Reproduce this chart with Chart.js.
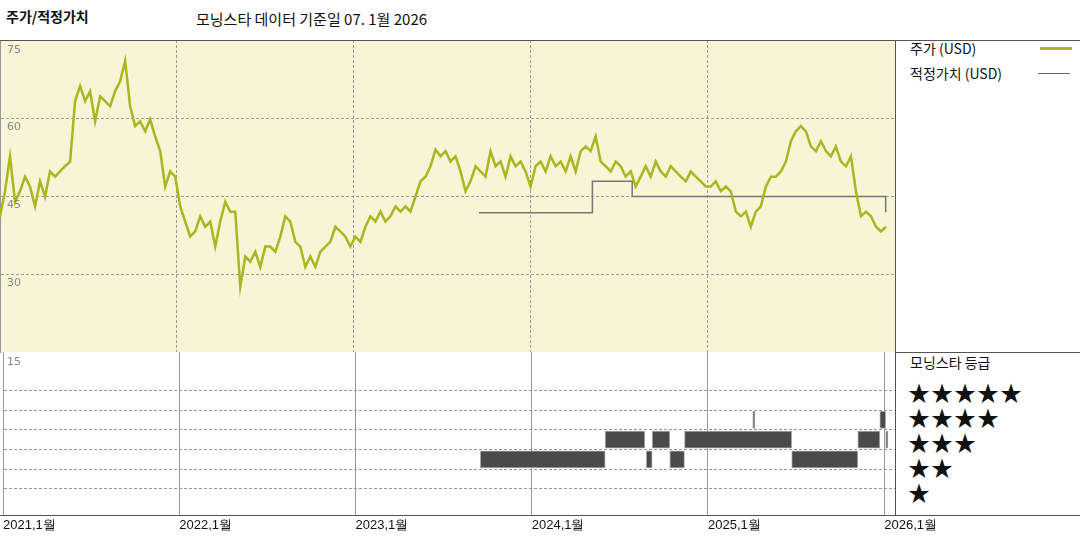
<!DOCTYPE html>
<html><head><meta charset="utf-8">
<script src="https://cdn.jsdelivr.net/npm/chart.js@4/dist/chart.umd.min.js"></script>
<style>
body{margin:0;width:1080px;height:540px;background:#fff;font-family:"Noto Sans CJK KR","Noto Sans",sans-serif;position:relative;overflow:hidden}
.t{position:absolute;white-space:nowrap;color:#111}
.yl{position:absolute;left:7px;font-size:11px;color:#888;z-index:2;font-family:"DejaVu Sans",sans-serif}
.ln{position:absolute;background:#555;z-index:3}
.star{position:absolute;left:908px;font-size:22px;letter-spacing:1px;color:#111;line-height:22px}
</style></head><body>
<div class="t" style="left:6px;top:6px;font-size:14px;font-weight:bold">주가/적정가치</div>
<div class="t" style="left:196px;top:8px;font-size:15px">모닝스타 데이터 기준일 07. 1월 2026</div>
<div class="t" style="left:910px;top:38px;font-size:14px">주가 (USD)</div>
<div class="ln" style="left:1040px;top:47px;width:32px;height:3px;background:#aab520"></div>
<div class="t" style="left:910px;top:63px;font-size:14px">적정가치 (USD)</div>
<div class="ln" style="left:1038px;top:73px;width:32px;height:1px;background:#666"></div>
<div class="t" style="left:910px;top:352px;font-size:14px">모닝스타 등급</div>
<div class="star" style="top:380px">★★★★★</div>
<div class="star" style="top:405px">★★★★</div>
<div class="star" style="top:430px">★★★</div>
<div class="star" style="top:455px">★★</div>
<div class="star" style="top:480px">★</div>
<div class="ln" style="left:0;top:40px;width:1080px;height:1px"></div>
<div class="ln" style="left:895px;top:352px;width:185px;height:1px"></div>
<div class="ln" style="left:0;top:515px;width:1080px;height:1px"></div>
<div class="ln" style="left:895px;top:40px;width:1px;height:476px"></div>
<div style="position:absolute;left:0;top:40px;width:896px;height:313px"><canvas id="c1"></canvas></div>
<div style="position:absolute;left:0;top:352px;width:966px;height:188px"><canvas id="c2"></canvas></div>
<div class="yl" style="top:43px">75</div>
<div class="yl" style="top:120px">60</div>
<div class="yl" style="top:198px">45</div>
<div class="yl" style="top:276px">30</div>
<div class="yl" style="top:355px">15</div>
<script>
// sampling interval of the price series, in months (about 10 days)
const priceStepMonths = 5 / 14.72;
const priceValues = [41.2,46.0,52.7,44.0,46.0,48.8,46.9,43.1,47.9,45.0,49.8,48.8,49.8,50.8,51.7,
63.3,66.2,63.3,65.2,59.4,64.2,63.3,62.3,65.2,67.1,71.0,62.3,58.5,59.4,57.5,59.8,56.5,53.7,46.9,49.8,48.8,43.1,40.2,37.3,38.3,41.2,39.2,40.2,35.4,40.2,44.0,42.1,42.1,27.7,33.5,32.5,34.4,31.5,35.4,35.4,34.4,37.3,41.2,40.2,36.3,35.4,31.5,33.5,31.5,34.4,35.4,36.3,39.2,38.3,37.3,35.4,37.3,36.3,39.2,41.2,40.2,42.1,40.2,41.2,43.1,42.1,43.1,42.1,45.0,47.9,48.8,50.8,54.0,52.7,53.7,51.7,52.7,49.8,46.0,47.9,50.8,49.8,48.8,53.7,50.8,51.7,48.8,52.7,50.8,51.7,49.8,46.9,50.8,51.7,49.8,52.7,50.8,51.7,49.8,52.7,49.8,53.7,54.6,53.7,56.5,51.7,50.8,49.8,51.7,50.8,48.8,49.8,46.9,48.8,50.8,48.8,51.7,49.8,48.8,50.8,49.8,48.8,47.9,49.8,48.8,47.9,46.9,46.9,47.9,46.0,46.9,46.0,42.1,41.2,42.1,39.2,42.1,43.1,46.9,48.8,48.8,49.8,51.7,55.6,57.5,58.5,57.5,54.6,53.7,55.6,53.7,52.7,54.6,51.7,50.8,52.7,46.0,41.2,42.1,41.2,39.2,38.3,39.2];
// fair value steps: month offset from Jan 2021, value
const fairMonths = [32.5,40.2,40.2,42.9,42.9,60.1,60.1];
const fairValues = [41.9,41.9,47.9,47.9,45.0,45.0,42.0];
// rating periods (month offsets) per star level
const rating2 = [[32.5,41.0],[43.8,44.2],[45.4,46.4],[53.7,58.2]];
const rating3 = [[41.0,43.7],[44.2,45.4],[46.4,53.7],[58.2,59.7],[60.1,60.25]];
const rating4 = [[51.05,51.2],[59.7,60.1]];
const yTicks = [15,30,45,60,75];
const xMax = 895/14.72;

const bg = {id:'bg',beforeDraw(c){const a=c.chartArea,x=c.ctx;x.save();x.fillStyle=c.options.plugins.bg.color;x.fillRect(a.left,a.top,a.width,a.height);x.restore();}};
const dash = {color:'#999',lineWidth:1,drawTicks:false};

new Chart(document.getElementById('c1'),{
  type:'scatter',
  data:{datasets:[
    {data:priceValues.map((v,i)=>({x:i*priceStepMonths,y:v})),showLine:true,borderColor:'#aab520',borderWidth:2.5,pointRadius:0},
    {data:fairMonths.map((m,i)=>({x:m,y:fairValues[i]})),showLine:true,borderColor:'#777',borderWidth:1.5,pointRadius:0}
  ]},
  options:{animation:false,responsive:true,maintainAspectRatio:false,layout:{padding:0},
    plugins:{legend:{display:false},tooltip:{enabled:false},bg:{color:'#f8f4d6'}},
    scales:{
      x:{type:'linear',min:0,max:xMax,ticks:{display:false,stepSize:12},grid:{...dash},border:{dash:[3,2],color:'#999'}},
      y:{min:15,max:75,afterBuildTicks(a){a.ticks=yTicks.map(v=>({value:v}));},
        ticks:{display:false},grid:{...dash},border:{dash:[3,2],color:'#999'}}
    }},
  plugins:[bg]
});

const mk=(arr,lvl)=>arr.map(r=>({x:r,y:lvl}));
const barStyle={backgroundColor:'#4a4a4a',borderColor:'#aaa',borderWidth:1,barThickness:17,borderSkipped:false,grouped:false};
new Chart(document.getElementById('c2'),{
  type:'bar',
  data:{datasets:[
    {data:mk(rating2,2),...barStyle},
    {data:mk(rating3,3),...barStyle},
    {data:mk(rating4,4),...barStyle}
  ]},
  options:{indexAxis:'y',animation:false,responsive:true,maintainAspectRatio:false,layout:{padding:{left:0,top:0,bottom:0,right:70}},
    plugins:{legend:{display:false},tooltip:{enabled:false},bg:{color:'#fff'}},
    scales:{
      x:{type:'linear',min:0,max:xMax,afterBuildTicks(a){a.ticks=[0,12,24,36,48,60].map(v=>({value:v}));},
        afterFit(a){a.height=25;},
        ticks:{align:'start',color:'#111',font:{size:13},padding:3,maxRotation:0,autoSkip:false,callback:v=>(2021+v/12)+',1월'},
        grid:{...dash},border:{color:'#555'}},
      y:{type:'linear',min:0,max:6.62,afterBuildTicks(a){a.ticks=[1,2,3,4,5].map(v=>({value:v}));},
        afterFit(a){a.width=0;},
        ticks:{display:false},grid:{...dash},border:{dash:[3,2],color:'#999'}}
    }},
  plugins:[bg]
});
</script>
</body></html>
